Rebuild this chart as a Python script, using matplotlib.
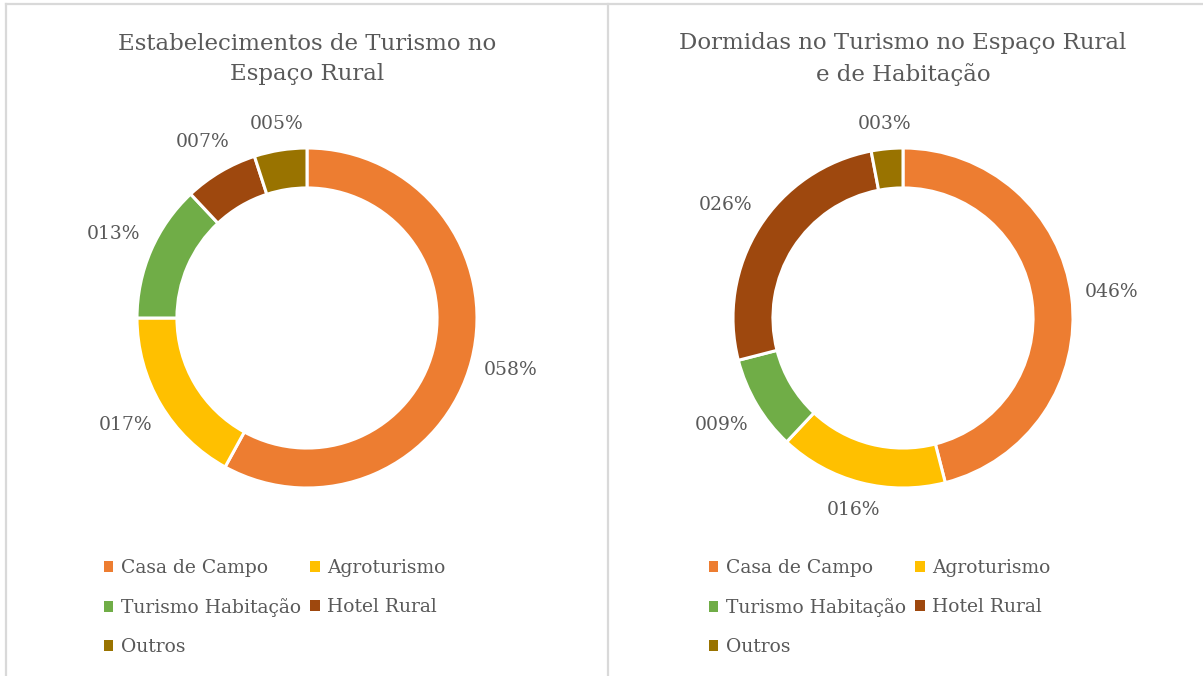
import numpy as np
import matplotlib.pyplot as plt
from matplotlib.lines import Line2D
from matplotlib.patches import Patch

categories = ["Casa de Campo", "Agroturismo", "Turismo Habitação", "Hotel Rural", "Outros"]
estab = [58, 17, 13, 7, 5]
dormidas = [46, 16, 9, 26, 3]
titles = ["Estabelecimentos de Turismo no\nEspaço Rural",
          "Dormidas no Turismo no Espaço Rural\ne de Habitação"]
colors = ["#ED7D31", "#FFC000", "#70AD47", "#9E480E", "#997300"]
txt = "#595959"

plt.rcParams['font.family'] = ['DejaVu Serif']

fig = plt.figure(figsize=(12.03, 6.76), dpi=100)

# border and divider
fig.add_artist(Line2D([6/1203, 6/1203], [0, 1 - 4/676], color="#D9D9D9", lw=1.6))
fig.add_artist(Line2D([6/1203, 1], [1 - 4/676, 1 - 4/676], color="#D9D9D9", lw=1.6))
fig.add_artist(Line2D([608/1203, 608/1203], [0, 1 - 4/676], color="#D9D9D9", lw=1.6))

R = 170.0
centers = [(307, 318), (903, 318)]
leg_x = [87, 692]
for k, (vals, title) in enumerate(zip([estab, dormidas], titles)):
    cx, cy = centers[k]
    ax = fig.add_axes([(cx - R) / 1203, 1 - (cy + R) / 676, 2 * R / 1203, 2 * R / 676])
    ax.pie(vals, colors=colors, startangle=90, counterclock=False,
           wedgeprops=dict(width=0.235, edgecolor="white", linewidth=2.2))
    ax.set_xlim(-1, 1)
    ax.set_ylim(-1, 1)
    ax.set_aspect("equal")
    # labels outside the ring
    total = sum(vals)
    start = 90.0
    for v in vals:
        ang = np.deg2rad(start - 360.0 * v / total / 2)
        start -= 360.0 * v / total
        c, s = np.cos(ang), np.sin(ang)
        d = 1.07 + (27 * abs(c) + 10 * abs(s)) / R
        ax.text(d * c, d * s, "%03d%%" % v, ha="center", va="center",
                fontsize=13.5, color=txt, clip_on=False)
    fig.text(cx / 1203, 1 - 59 / 676, title, ha="center", va="center",
             fontsize=16.5, color=txt, linespacing=1.5)
    handles = [Patch(facecolor=c) for c in colors]
    order = [0, 2, 4, 1, 3]
    fig.legend([handles[i] for i in order], [categories[i] for i in order],
               ncol=2, loc="upper left",
               bbox_to_anchor=(leg_x[k] / 1203, 1 - 542 / 676),
               frameon=False, fontsize=13.5, handlelength=0.5, handleheight=0.5,
               handletextpad=0.4, columnspacing=0.5, labelspacing=1.13,
               labelcolor=txt)

fig.savefig("out.png", dpi=100)
